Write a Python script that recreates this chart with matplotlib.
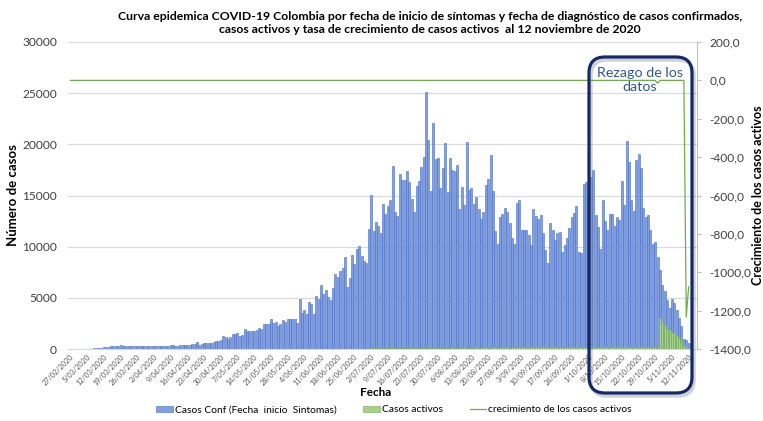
import matplotlib
matplotlib.use("Agg")
import matplotlib.pyplot as plt
from matplotlib.patches import FancyBboxPatch, Patch
from matplotlib.lines import Line2D
from matplotlib.transforms import IdentityTransform
import numpy as np
import pandas as pd

plt.rcParams['font.family'] = ['Lato', 'DejaVu Sans']

# daily data 27/02/2020 .. 12/11/2020
fechas = pd.date_range('2020-02-27', '2020-11-12', freq='D')

casos_conf = [
    2, 0, 3, 5, 8, 12, 15, 20, 30, 45, 60, 80, 110,
    130, 160, 200, 230, 250, 260, 280, 300, 390,
    330, 290, 270, 300, 280, 310, 260, 290, 300, 270,
    280, 310, 260, 300, 290, 320, 280, 310, 300, 330,
    350, 360, 320, 340, 360, 350, 370, 360,
    400, 490, 450, 680, 420, 500, 550, 560, 540, 620,
    680, 780, 820, 880, 1300, 1150, 1010, 1200, 1430, 1480,
    1530, 1270, 1400, 1950, 1800, 1730, 1780, 1790, 1860, 2080,
    2000, 2450, 2400, 2480, 2960, 2500, 2670, 2280, 2400, 2830,
    2600, 2960, 2950, 2960, 2900, 2500, 4880, 3480, 3800, 3420,
    4630, 4400, 3420, 5180, 4850, 6250, 5340, 5770, 5050, 4790,
    5960, 7300, 7070, 7620, 7880, 8960, 6090, 6970, 9190, 8310,
    9740, 10070, 9090, 8630, 8370, 11690, 15050, 11560, 12380, 12020,
    11370, 14200, 13200, 14000, 14600, 17900, 13400, 13000, 17100, 16500,
    16500, 17400, 16300, 14700, 13400, 15900, 16400, 17800, 18800, 25100,
    20400, 15400, 22100, 18600, 18700, 15700, 17700, 20100, 15300, 18700,
    17500, 17400, 18000, 13700, 15800, 14100, 20200, 15500, 15700, 14200,
    14900, 13700, 12700, 13400, 16000, 16600, 19000, 15400, 11500, 10300,
    12900, 13200, 13800, 13400, 12300, 10800, 10300, 14300, 14600, 11600,
    11600, 11600, 11100, 10200, 13700, 13000, 12700, 13100, 11300, 9700,
    8400, 12300, 11600, 10700, 11300, 11400, 9500, 10200, 10800, 11800,
    12900, 13300, 14000, 9500, 9400, 16100, 16300, 15000, 16800, 17500,
    13100, 11900, 9800, 14600, 12500, 11600, 13200, 13200, 12000, 12900,
    12600, 16400, 14100, 20300, 18300, 14600, 13500, 18500, 19100, 17700,
    13800, 12900, 13100, 11600, 10300, 10500, 9000, 7700, 6300, 5700,
    4800, 4000, 4900, 4500, 3800, 3000, 2200, 1000, 900, 550,
]

casos_activos = [0] * 126 + [
    60, 70, 60, 80, 70, 60, 80, 90, 70, 80,
    90, 80, 100, 90, 80, 100, 110, 90, 100, 120,
    110, 100, 120, 130, 110, 120, 140, 120, 110, 130,
    120, 140, 130, 120, 150, 140, 130, 120, 140, 150,
    130, 140, 120, 130, 150, 140, 130, 150, 160, 140,
    130, 150, 160, 140, 150, 170, 160, 150, 140, 160,
    150, 170, 160, 150, 170, 180, 160, 150, 170, 160,
    150, 170, 180, 160, 170, 190, 180, 170, 160, 180,
    170, 160, 180, 190, 170, 180, 200, 190, 180, 170,
    190, 200, 180, 190, 210, 200, 190, 220, 210, 200,
    190, 210, 220, 200, 230, 240, 220, 210, 230, 220,
    200, 210, 230, 220, 200, 190, 210, 200, 190, 180,
    170,
    3060, 2670, 2350, 2000, 1860, 1530, 1660, 1370, 1040, 720,
    390, 200, 100,
]

crecimiento = [0.0] * 246 + [-15.0] + [0.0] * 11 + [-1233.0, -1076.0]

W, H = 763, 421
fig = plt.figure(figsize=(W / 100, H / 100), dpi=100)
ax = fig.add_axes([68 / W, 1 - 349 / H, (697 - 68) / W, (349 - 42) / H])

x = np.arange(len(fechas))
ax.bar(x, casos_conf, width=0.85, color='#7f9fe0', edgecolor='#4a6fc7', linewidth=0.4, zorder=2)
ax.bar(x, casos_activos, width=0.85, color='#a9d18e', edgecolor='#70ad47', linewidth=0.4, zorder=3)
ax.set_ylim(0, 30000)
ax.set_xlim(-1, 262.5)
ax.set_yticks(np.arange(0, 30001, 5000))
ax.yaxis.grid(True, color='#d9d9d9', lw=0.8)
ax.set_axisbelow(True)
for s in ('left', 'top', 'right'):
    ax.spines[s].set_visible(False)
ax.spines['bottom'].set_color('#d9d9d9')
ax.tick_params(axis='y', length=0, pad=8, labelsize=8.6, labelcolor='#404040')

ticks = x[::7]
ax.set_xticks(ticks)
ax.set_xticklabels([f"{d.day}/{d.month:02d}/{d.year}" for d in fechas[::7]],
                   rotation=45, ha='right', rotation_mode='anchor', fontsize=5.2, color='#595959')
ax.tick_params(axis='x', length=0, pad=3)

ax2 = ax.twinx()
ax2.plot(x, crecimiento, color='#70ad47', lw=0.9)
ax2.set_ylim(-1400, 200)
ax2.set_yticks(np.arange(-1400, 201, 200))
ax2.set_yticklabels([f"{v:.1f}".replace('.', ',') for v in np.arange(-1400, 201, 200)])
for s in ('left', 'top', 'bottom'):
    ax2.spines[s].set_visible(False)
ax2.spines['right'].set_color('#bfbfbf')
ax2.tick_params(axis='y', length=3, color='#bfbfbf', pad=6, labelsize=8.6, labelcolor='#404040')

fig.text(430 / W, 1 - 23 / H,
         "Curva epidemica COVID-19 Colombia por fecha de inicio de síntomas y fecha de diagnóstico de casos confirmados,\n"
         "casos activos y tasa de crecimiento de casos activos  al 12 noviembre de 2020",
         ha='center', va='center', fontsize=8.8, fontweight='bold', color='#000000', linespacing=1.3)
fig.text(13 / W, 1 - 195 / H, "Número de casos", rotation=90, ha='center', va='center',
         fontsize=9.5, fontweight='bold', color='#000000')
fig.text(758 / W, 1 - 195 / H, "Crecimiento de los casos activos", rotation=90, ha='center', va='center',
         fontsize=9, fontweight='bold', color='#000000')
fig.text(376 / W, 1 - 392 / H, "Fecha", ha='center', va='center', fontsize=8.5, fontweight='bold', color='#000000')

# lag box
shadow = FancyBboxPatch((591, H - 396), 103, 336, boxstyle='round,pad=0,rounding_size=16',
                        transform=IdentityTransform(), fill=False, ec='#7f7f7f', lw=2.5, alpha=0.35)
fig.add_artist(shadow)
box = FancyBboxPatch((589, H - 393), 103, 336, boxstyle='round,pad=0,rounding_size=16',
                     transform=IdentityTransform(), fill=False, ec='#13296b', lw=2.3)
fig.add_artist(box)
fig.text(640 / W, 1 - 80 / H, "Rezago de los\ndatos", ha='center', va='center', fontsize=10.3,
         color='#2f5597', linespacing=1.15)

handles = [Patch(facecolor='#7f9fe0', edgecolor='#4a6fc7', lw=0.4),
           Patch(facecolor='#a9d18e', edgecolor='#70ad47', lw=0.4),
           Line2D([0], [0], color='#70ad47', lw=0.9)]
fig.legend(handles, ["Casos Conf (Fecha  inicio  Sintomas)", "Casos activos", "crecimiento de los casos activos"],
           loc='center', bbox_to_anchor=(394 / W, 1 - 410 / H), ncol=3, frameon=False, fontsize=7.4,
           handlelength=1.6, handleheight=0.6, handletextpad=0.2, columnspacing=2.6)

fig.savefig('out.png', dpi=100)
